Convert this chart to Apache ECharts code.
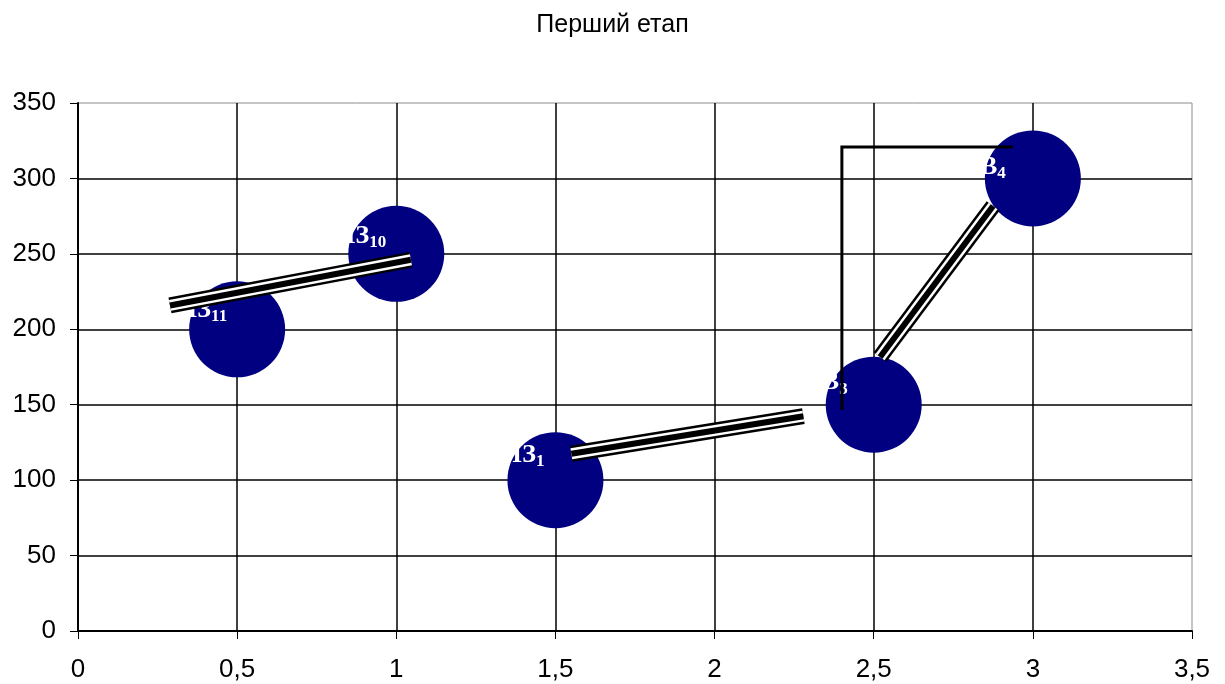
<!DOCTYPE html>
<html>
<head>
<meta charset="utf-8">
<script src="https://cdn.jsdelivr.net/npm/echarts@6/dist/echarts.min.js"></script>
<style>
  html, body { margin: 0; padding: 0; background: #fff; }
  #chart { width: 1225px; height: 684px; }
</style>
</head>
<body>
<div id="chart"></div>
<script>
// Stations of the first stage: x position, y position, name and index
const stationX = [0.5, 1, 1.5, 2.5, 3];
const stationY = [200, 250, 100, 150, 300];
const stationName = ['ІЗ', 'ІЗ', 'ІЗ', 'В', 'В'];
const stationIndex = ['11', '10', '1', '3', '4'];

// Triple-stroke connectors between stations (start and end points)
const linkA = [[0.289, 215.8], [1.046, 246.1]];
const linkB = [[1.550, 117.5], [2.279, 142.4]];
const linkC = [[2.520, 181.6], [2.875, 281.7]];

// Bracket line: up from the third station, then across to the fourth
const bracket = [[2.4, 146.5], [2.4, 320.8], [2.937, 320.8]];

// Axis ranges
const xMin = 0, xMax = 3.5, xStep = 0.5;
const yMin = 0, yMax = 350, yStep = 50;

// Label nudges (pixels) relative to each circle's centre
const labelShift = [[-10, -19], [-10, -18], [-11, -25], [-26, -22], [-27, -11]];

const chart = echarts.init(document.getElementById('chart'), null, { renderer: 'canvas' });

const points = stationX.map((x, i) => ({
  value: [x, stationY[i]],
  label: { offset: labelShift[i] }
}));

function tripleStroke(data) {
  const base = { type: 'line', data: data, symbol: 'none', silent: true, z: 4, animation: false };
  return [
    Object.assign({}, base, { lineStyle: { color: '#000', width: 16, cap: 'butt' } }),
    Object.assign({}, base, { z: 5, lineStyle: { color: '#fff', width: 11, cap: 'butt' } }),
    Object.assign({}, base, { z: 6, lineStyle: { color: '#000', width: 6, cap: 'butt' } })
  ];
}

const option = {
  animation: false,
  backgroundColor: '#fff',
  title: {
    text: 'Перший етап',
    left: 'center',
    top: 8,
    textStyle: { fontFamily: 'Liberation Sans', fontSize: 25, fontWeight: 'normal', color: '#000' }
  },
  grid: {
    left: 78, right: 33, top: 103, bottom: 53,
    outerBoundsMode: 'none',
    show: true, borderColor: '#8c8c8c', borderWidth: 1, backgroundColor: '#fff'
  },
  xAxis: {
    type: 'value', min: xMin, max: xMax, interval: xStep,
    axisLine: { show: true, onZero: false, lineStyle: { color: '#000', width: 2 } },
    axisTick: { show: true, length: 8, lineStyle: { color: '#000', width: 1 } },
    splitLine: { show: true, showMinLine: false, showMaxLine: false, lineStyle: { color: '#000', width: 1.5 } },
    axisLabel: {
      margin: 26, color: '#000', fontFamily: 'Liberation Sans', fontSize: 26,
      formatter: v => String(v).replace('.', ',')
    }
  },
  yAxis: {
    type: 'value', min: yMin, max: yMax, interval: yStep,
    axisLine: { show: true, onZero: false, lineStyle: { color: '#000', width: 2 } },
    axisTick: { show: true, length: 8, lineStyle: { color: '#000', width: 1 } },
    splitLine: { show: true, showMinLine: false, showMaxLine: false, lineStyle: { color: '#000', width: 1.5 } },
    axisLabel: {
      margin: 22, color: '#000', fontFamily: 'Liberation Sans', fontSize: 26
    }
  },
  series: [
    {
      type: 'scatter',
      data: points,
      symbol: 'circle',
      symbolSize: 96,
      z: 3,
      itemStyle: { color: '#000080', opacity: 1 },
      emphasis: { disabled: true },
      label: {
        show: true,
        position: 'inside',
        align: 'right',
        verticalAlign: 'middle',
        formatter: p => '{m|' + stationName[p.dataIndex] + '}{s|' + stationIndex[p.dataIndex] + '}',
        rich: {
          m: { fontFamily: 'Liberation Serif', fontWeight: 'bold', fontSize: 26, color: '#fff', lineHeight: 30, verticalAlign: 'middle' },
          s: { fontFamily: 'Liberation Serif', fontWeight: 'bold', fontSize: 17, color: '#fff', lineHeight: 30, verticalAlign: 'bottom' }
        }
      }
    },
    ...tripleStroke(linkA),
    ...tripleStroke(linkB),
    ...tripleStroke(linkC),
    {
      type: 'line',
      data: bracket,
      symbol: 'none',
      silent: true,
      z: 7,
      lineStyle: { color: '#000', width: 3, cap: 'butt', join: 'miter' }
    }
  ]
};

chart.setOption(option);
</script>
</body>
</html>
